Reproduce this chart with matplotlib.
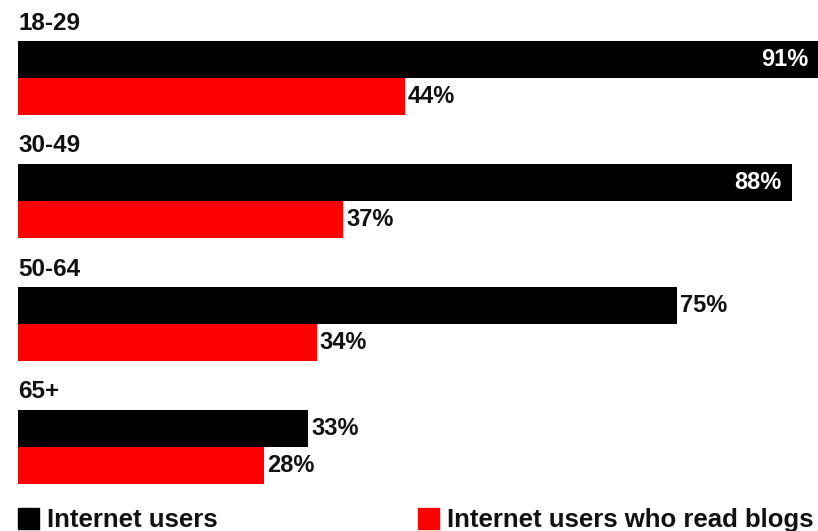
import matplotlib
matplotlib.use("Agg")
import matplotlib.pyplot as plt
from matplotlib.patches import Rectangle

age_groups = ["18-29", "30-49", "50-64", "65+"]
internet_users = [91, 88, 75, 33]
blog_readers = [44, 37, 34, 28]
series_names = ["Internet users", "Internet users who read blogs"]
colors = ["#000000", "#ff0000"]

W, H = 818, 531
plt.rcParams["font.family"] = ["Liberation Sans", "DejaVu Sans"]
plt.rcParams["font.weight"] = "bold"

fig = plt.figure(figsize=(W / 100, H / 100), dpi=100)
ax = fig.add_axes([0, 0, 1, 1])

# x in percent: 0% sits at pixel 18, 91% at the right edge
px_per_pct = (W - 18) / max(internet_users)
ax.set_xlim(-18 / px_per_pct, (W - 18) / px_per_pct)
# y in pixels, top down
ax.set_ylim(H, 0)
ax.axis("off")

bar_h = 37
step = 123
first_mid = 78

for i, grp in enumerate(age_groups):
    mid = first_mid + step * i
    y_black = mid - bar_h / 2
    y_red = mid + bar_h / 2
    ax.barh(y_black, internet_users[i], height=bar_h, color=colors[0], left=0)
    ax.barh(y_red, blog_readers[i], height=bar_h, color=colors[1], left=0)
    ax.text(0, mid - bar_h - 18, grp, ha="left", va="center",
            fontsize=17.5, fontweight="bold", color="#111111")

    v = internet_users[i]
    if v > 80:
        ax.text(v - 10 / px_per_pct, y_black, f"{v}%", ha="right", va="center",
                fontsize=17, fontweight="bold", color="white")
    else:
        ax.text(v + 3 / px_per_pct, y_black, f"{v}%", ha="left", va="center",
                fontsize=17, fontweight="bold", color="#111111")
    r = blog_readers[i]
    ax.text(r + 3 / px_per_pct, y_red, f"{r}%", ha="left", va="center",
            fontsize=17, fontweight="bold", color="#111111")

# legend along the bottom
legend_x = [18, 418]
for x0, name, c in zip(legend_x, series_names, colors):
    fig.patches.append(Rectangle((x0 / W, 1 - 529 / H), 21 / W, 21 / H,
                                 transform=fig.transFigure, color=c))
    fig.text((x0 + 29) / W, 1 - 527 / H, name, ha="left", va="baseline",
             fontsize=18.5, fontweight="bold", color="#111111")

fig.savefig("out.png", dpi=100, facecolor="white")
